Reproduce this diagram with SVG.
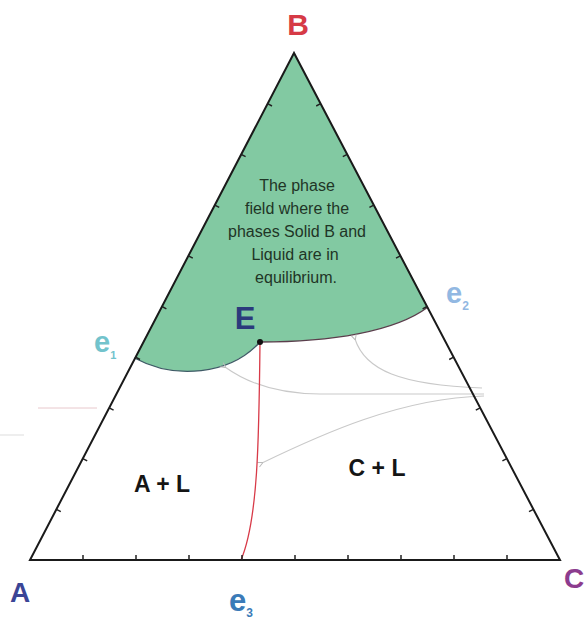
<svg xmlns="http://www.w3.org/2000/svg" width="585" height="619" viewBox="0 0 585 619">
<style>
.lbl{font-family:"Liberation Sans",Arial,sans-serif;font-weight:bold}
.ph{font-family:"Liberation Sans",Arial,sans-serif;font-size:16px;fill:#1f3526;text-anchor:middle}
.tick{stroke:#222;stroke-width:1.5}
.gray{fill:none;stroke:#c9c9c9;stroke-width:1.1}
.reg{font-family:"Liberation Sans",Arial,sans-serif;font-weight:bold;font-size:23px;fill:#151515}
</style>
<defs>
<marker id="ah" markerWidth="6" markerHeight="6" refX="1" refY="3" orient="auto" markerUnits="userSpaceOnUse">
<path d="M5,0.5 L0,3 L5,5.5" fill="none" stroke="#bbb" stroke-width="1"/>
</marker>
</defs>
<rect width="585" height="619" fill="#fff"/>
<g id="field-B">
<path d="M294,53 L134.5,358 C175,380 230,375 260,342 C330,342 395,332 428,307 Z" fill="#82c9a2"/>
<path d="M134.5,358 C175,380 230,375 260,342" fill="none" stroke="#3f5a66" stroke-width="1.3"/>
<path d="M260,342 C330,342 395,332 428,307" fill="none" stroke="#5b3e4c" stroke-width="1.3"/>
<text class="ph" x="297" y="191">The phase</text>
<text class="ph" x="297" y="214">field where the</text>
<text class="ph" x="297" y="237">phases Solid B and</text>
<text class="ph" x="295" y="260">Liquid are in</text>
<text class="ph" x="296" y="283">equilibrium.</text>
</g>
<g id="connectors">
<path class="gray" d="M482,388 C400,385 365,370 355,339" marker-end="url(#ah)"/>
<path class="gray" d="M484,394 L320,394 C280,394 250,385 225,367" marker-end="url(#ah)"/>
<path class="gray" d="M484,396 C400,398 320,435 262,463" marker-end="url(#ah)"/>
<path d="M38,408 L97,408" fill="none" stroke="#e8c8cc" stroke-width="1"/>
<path d="M0,435 L24,435" fill="none" stroke="#dddddd" stroke-width="1"/>
<path id="cotectic" d="M260,342 C259,440 258,520 241,560" fill="none" stroke="#d83a48" stroke-width="1.3"/>
</g>
<g id="triangle">
<path d="M294,53 L30,560 L560,560 Z" fill="none" stroke="#1a1a1a" stroke-width="2" stroke-linejoin="miter"/>
<path class="tick" d="M56.4,509.3L60.8,511.6M82.8,458.6L87.2,460.9M109.2,407.9L113.6,410.2M135.6,357.2L140,359.5M162,306.5L166.4,308.8M188.4,255.8L192.8,258.1M214.8,205.1L219.2,207.4M241.2,154.4L245.6,156.7M267.6,103.7L272,106"/>
<path class="tick" d="M320.6,103.7L316.2,106M347.2,154.4L342.8,156.7M373.8,205.1L369.4,207.4M400.4,255.8L396,258.1M427,306.5L422.6,308.8M453.6,357.2L449.2,359.5M480.2,407.9L475.8,410.2M506.8,458.6L502.4,460.9M533.4,509.3L529,511.6"/>
<path class="tick" d="M83,560V555M136,560V555M189,560V555M242,560V555M295,560V555M348,560V555M401,560V555M454,560V555M507,560V555"/>
</g>
<g id="point-E">
<circle cx="260" cy="342" r="3" fill="#111"/>
<text class="lbl" x="245" y="329" font-size="31" fill="#2b3a7c" text-anchor="middle">E</text>
</g>
<g id="vertex-B"><text class="lbl" x="298" y="35" font-size="30" fill="#d63a46" text-anchor="middle">B</text></g>
<g id="vertex-A"><text class="lbl" x="20" y="602" font-size="28" fill="#3b4596" text-anchor="middle">A</text></g>
<g id="vertex-C"><text class="lbl" x="564" y="588" font-size="28" fill="#8c3c8e">C</text></g>
<g id="e1"><text class="lbl" x="94" y="352" font-size="29" fill="#72c3cc">e<tspan font-size="11" dy="7">1</tspan></text></g>
<g id="e2"><text class="lbl" x="446" y="303" font-size="29" fill="#92b8e2">e<tspan font-size="12" dy="7">2</tspan></text></g>
<g id="e3"><text class="lbl" x="229" y="611" font-size="31" fill="#3b7bb8">e<tspan font-size="12" dy="6">3</tspan></text></g>
<g id="region-AL"><text class="reg" x="162" y="492" text-anchor="middle">A + L</text></g>
<g id="region-CL"><text class="reg" x="377" y="476" text-anchor="middle">C + L</text></g>
</svg>
